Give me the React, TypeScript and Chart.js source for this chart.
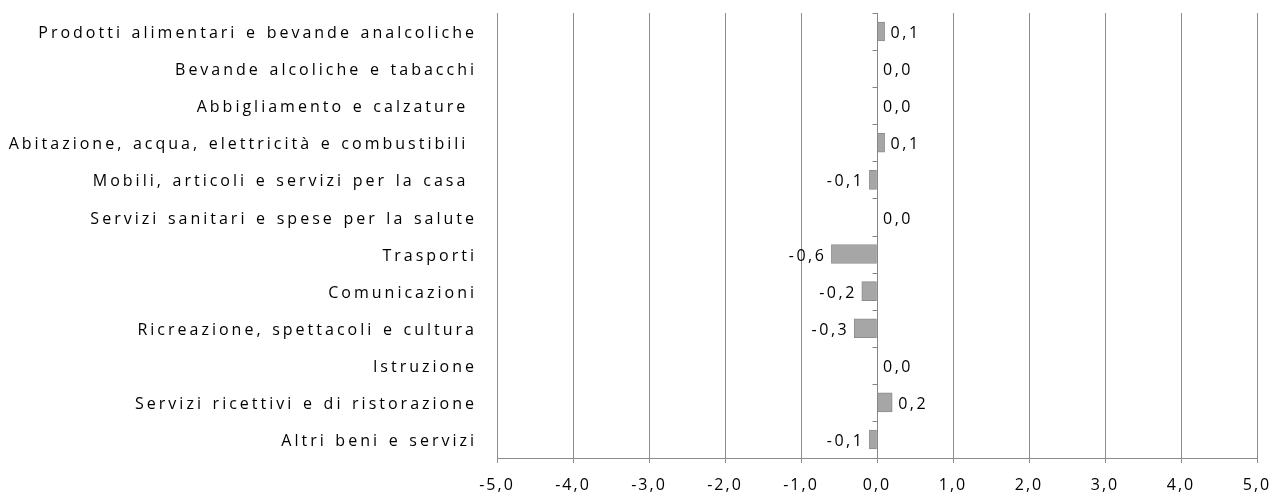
import React, { useEffect, useRef } from "react";
import { Chart, registerables } from "chart.js";

Chart.register(...registerables);

const categories: string[] = [
  "Prodotti alimentari e bevande analcoliche",
  "Bevande alcoliche e tabacchi",
  "Abbigliamento e calzature ",
  "Abitazione, acqua, elettricità e combustibili ",
  "Mobili, articoli e servizi per la casa ",
  "Servizi sanitari e spese per la salute",
  "Trasporti",
  "Comunicazioni",
  "Ricreazione, spettacoli e cultura",
  "Istruzione",
  "Servizi ricettivi e di ristorazione",
  "Altri beni e servizi",
];

const values: number[] = [0.1, 0.0, 0.0, 0.1, -0.1, 0.0, -0.6, -0.2, -0.3, 0.0, 0.2, -0.1];

const xMin = -5;
const xMax = 5;

const FONT = "'Open Sans', sans-serif";
const SIZE = 16;
const SPACING = "3px";
const WORDSPACING = "1.5px";
const LABEL_SPACING = "2.5px";
const XTICK_SPACING = "2px";
const fmt = (v: number) => v.toFixed(1).replace(".", ",");

const spacingPlugin = {
  id: "spacing",
  beforeDraw(chart: any) {
    (chart.ctx as any).letterSpacing = SPACING;
    (chart.ctx as any).wordSpacing = WORDSPACING;
  },
};

const overlayPlugin = {
  id: "overlay",
  afterDatasetsDraw(chart: any) {
    const ctx = chart.ctx;
    const xs = chart.scales.x;
    const ys = chart.scales.y;
    const area = chart.chartArea;
    const x0 = Math.round(xs.getPixelForValue(0)) + 0.5;
    ctx.save();
    ctx.strokeStyle = "#868686";
    ctx.lineWidth = 1;
    ctx.beginPath();
    ctx.moveTo(x0, area.top);
    ctx.lineTo(x0, area.bottom);
    const n = categories.length;
    const band = (area.bottom - area.top) / n;
    for (let i = 0; i <= n; i++) {
      const y = Math.round(area.top + band * i) + 0.5;
      ctx.moveTo(x0 - 5, y);
      ctx.lineTo(x0, y);
    }
    ctx.stroke();

    ctx.fillStyle = "#000";
    ctx.font = `${SIZE}px ${FONT}`;
    (ctx as any).letterSpacing = LABEL_SPACING;
    ctx.textBaseline = "middle";
    values.forEach((v, i) => {
      const y = ys.getPixelForValue(i) + 2;
      const xe = xs.getPixelForValue(v);
      if (v < 0) {
        ctx.textAlign = "right";
        ctx.fillText(fmt(v), xe - 5, y);
      } else {
        ctx.textAlign = "left";
        ctx.fillText(fmt(v), xe + 6, y);
      }
    });
    ctx.restore();
    // x tick labels are drawn after this (ticks.z = 1)
    (ctx as any).letterSpacing = XTICK_SPACING;
  },
};

const zeroPad = (s: any) => {
  s.paddingTop = 0;
  s.paddingBottom = 0;
  s.paddingLeft = 0;
  s.paddingRight = 0;
};

export default function App() {
  const ref = useRef<HTMLCanvasElement | null>(null);
  useEffect(() => {
    if (!ref.current) return;
    const chart = new Chart(ref.current, {
      type: "bar",
      data: {
        labels: categories,
        datasets: [
          {
            data: values,
            backgroundColor: "#A6A6A6",
            borderColor: "#8C8C8C",
            borderWidth: 1,
            borderSkipped: false,
            barThickness: 19,
          },
        ],
      },
      options: {
        indexAxis: "y",
        animation: false,
        responsive: true,
        maintainAspectRatio: false,
        layout: { autoPadding: false, padding: { left: 0, right: 16, top: 13, bottom: 0 } },
        plugins: {
          legend: { display: false },
          tooltip: { enabled: false },
        },
        scales: {
          x: {
            min: xMin,
            max: xMax,
            ticks: {
              stepSize: 1,
              color: "#000",
              font: { family: FONT, size: SIZE },
              padding: 13,
              maxRotation: 0,
              z: 1,
              callback: (v: any) => fmt(Number(v)),
            },
            grid: {
              color: "#8C8C8C",
              lineWidth: 1,
              drawTicks: true,
              tickLength: 5,
            },
            border: { display: true, color: "#8C8C8C" },
            afterFit: (s: any) => {
              s.height = 35;
              zeroPad(s);
            },
          },
          y: {
            ticks: {
              color: "#000",
              font: { family: FONT, size: SIZE },
              padding: 20,
              labelOffset: 2,
              autoSkip: false,
            },
            grid: { display: false, drawTicks: false },
            border: { display: false },
            afterFit: (s: any) => {
              s.width = 497;
              zeroPad(s);
            },
          },
        },
      },
      plugins: [spacingPlugin, overlayPlugin],
    });
    return () => chart.destroy();
  }, []);
  return (
    <div style={{ position: "fixed", left: 0, top: 0, width: 1273, height: 493, background: "#fff" }}>
      <canvas ref={ref} />
    </div>
  );
}
